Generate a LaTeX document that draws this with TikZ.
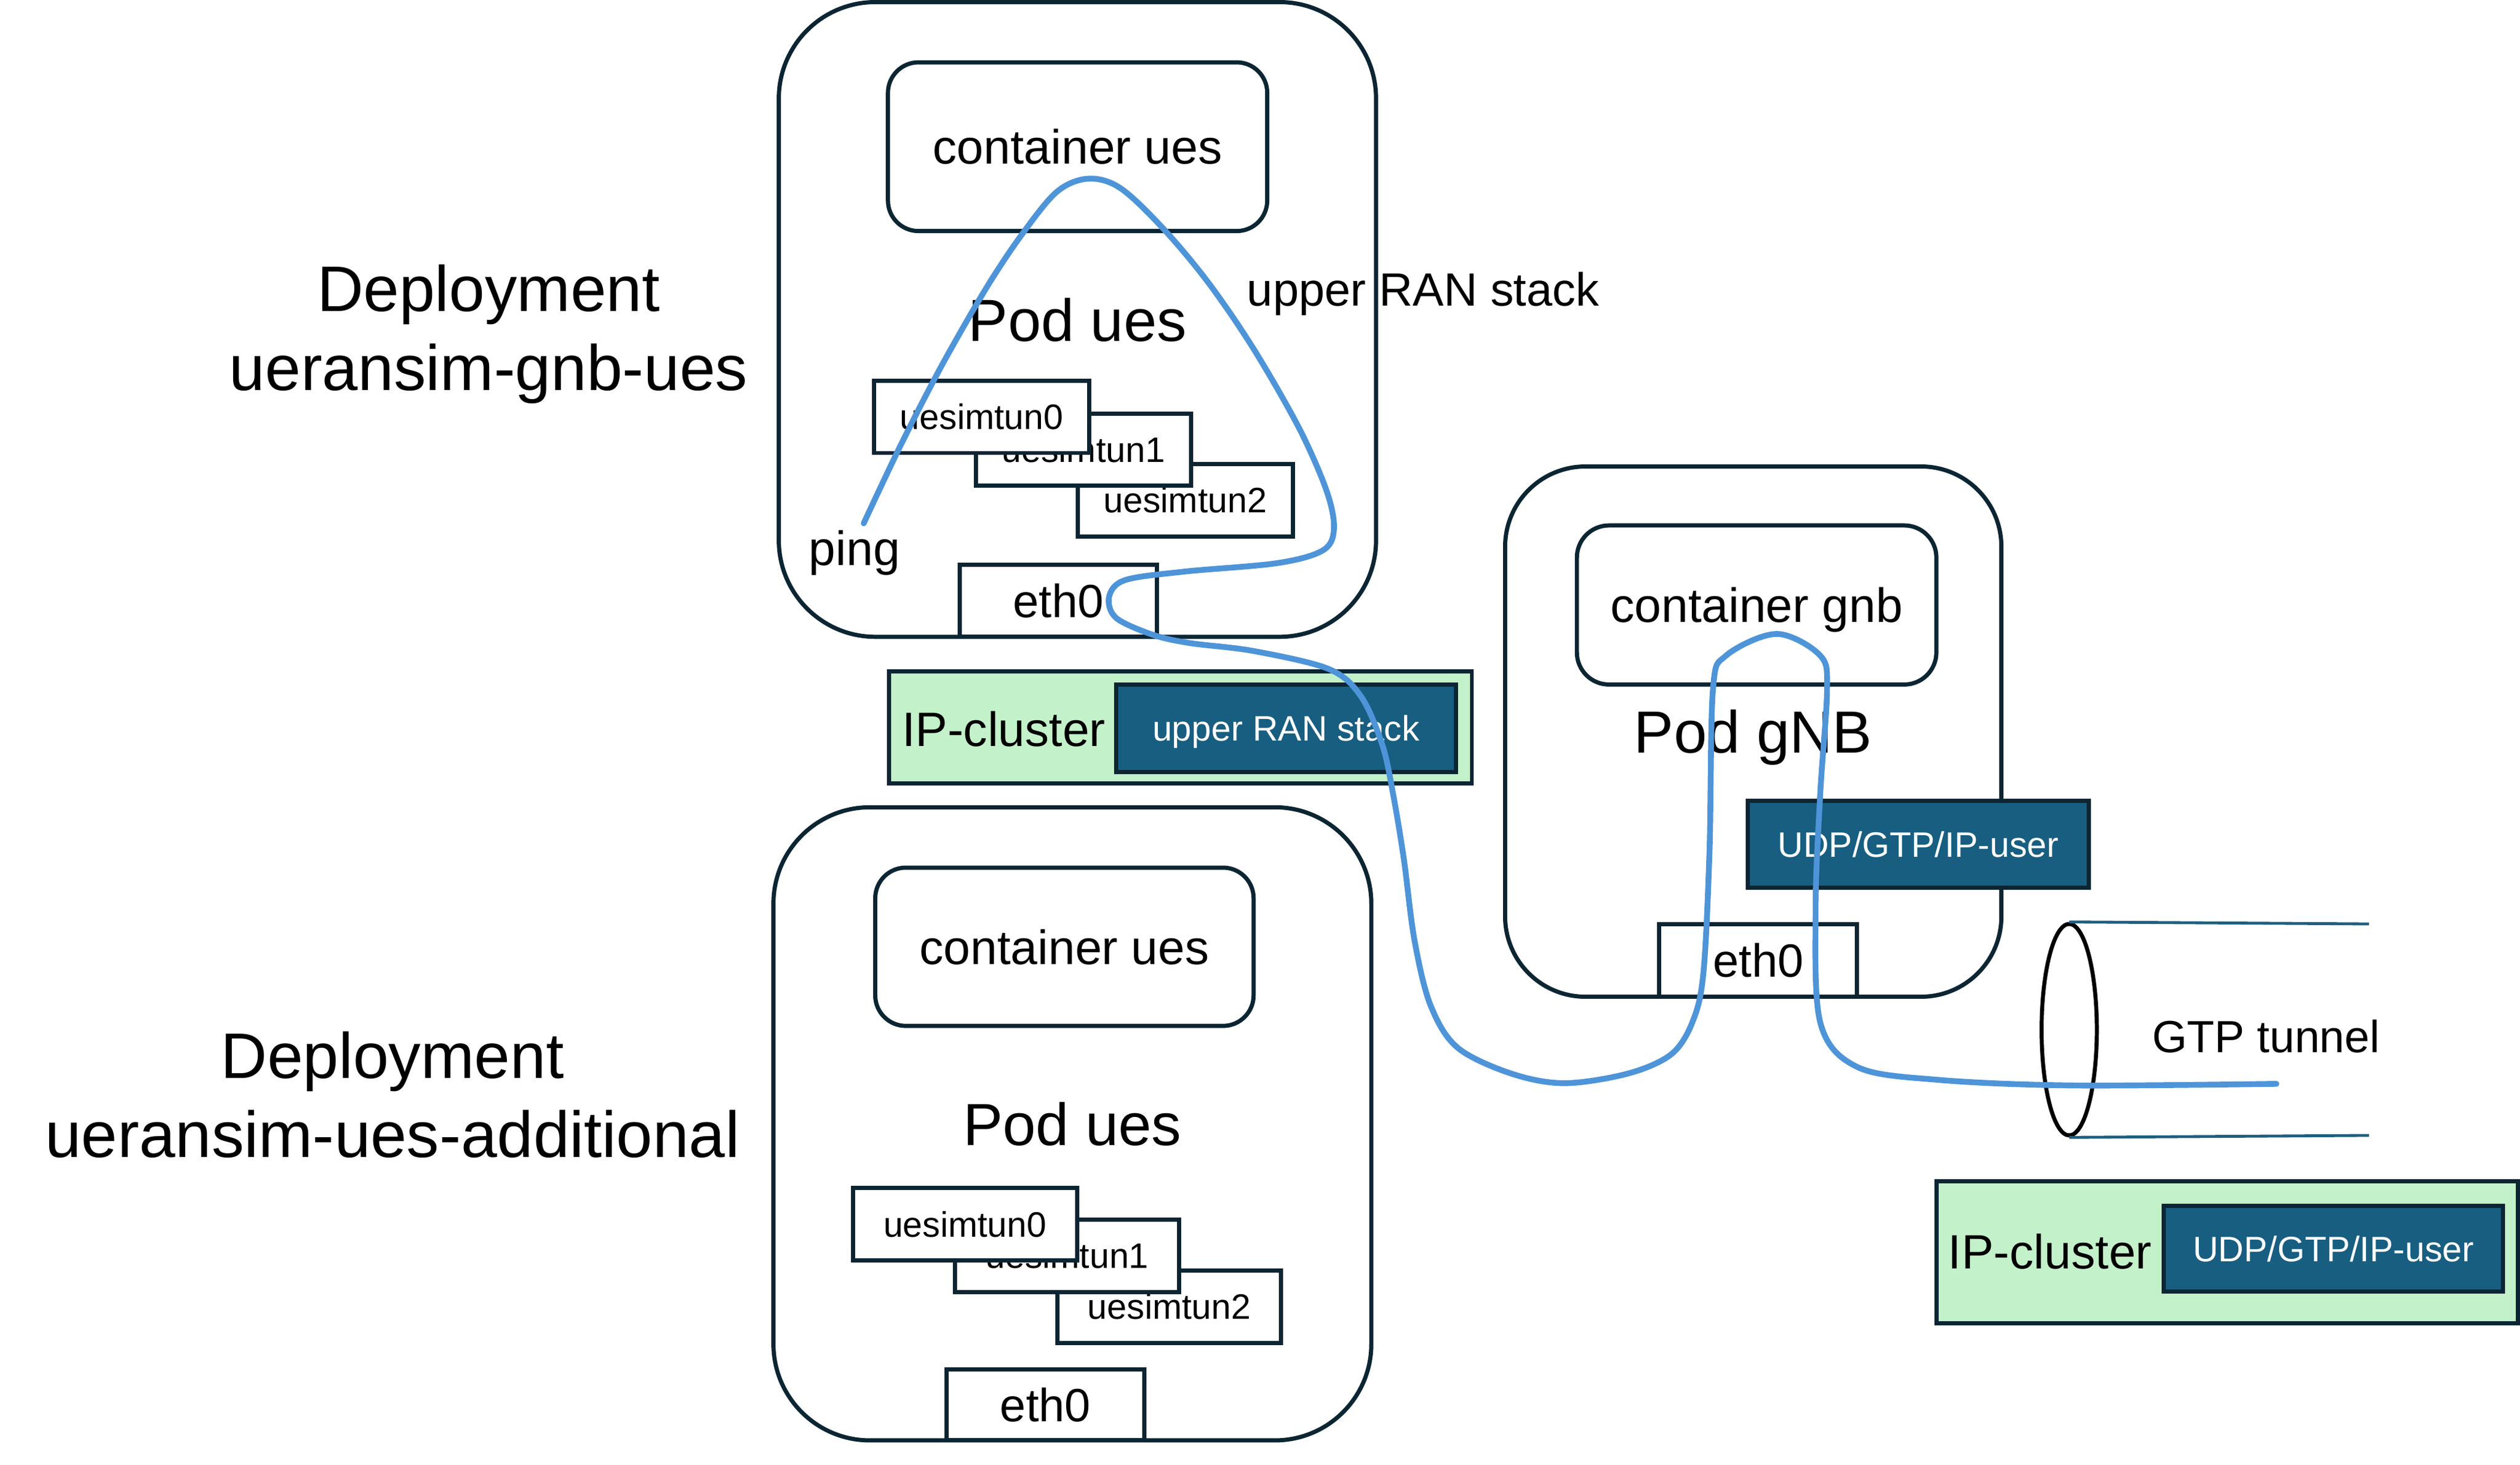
\documentclass[tikz,border=0pt]{standalone}
\usepackage{fontspec}
\setmainfont{Liberation Sans}
\usetikzlibrary{shapes.geometric}
\definecolor{edgec}{HTML}{0B2533}
\definecolor{tealc}{HTML}{175E81}
\definecolor{mintc}{HTML}{C3F1C9}
\definecolor{flowc}{HTML}{4E94D8}
\definecolor{tubec}{HTML}{1F5F7F}
\tikzset{
  podbox/.style={draw=edgec, line width=2.6pt, rounded corners=60pt, fill=white, inner sep=0pt, text depth=0pt, font=\fontsize{37}{44}\selectfont},
  contbox/.style={draw=edgec, line width=2.6pt, rounded corners=19pt, fill=white, inner sep=0pt, text depth=0pt, font=\fontsize{30}{36}\selectfont},
  tunbox/.style={draw=edgec, line width=2.6pt, fill=white, inner sep=0pt, minimum height=45pt, font=\fontsize{22}{26}\selectfont},
  ethbox/.style={draw=edgec, line width=2.6pt, fill=white, inner sep=0pt, minimum width=123pt, minimum height=45pt, font=\fontsize{29}{34}\selectfont},
  stackbox/.style={draw=edgec, line width=2.6pt, fill=tealc, text=white, inner sep=0pt, text depth=0pt, font=\fontsize{22}{26}\selectfont},
  clusterbox/.style={draw=edgec, line width=2.6pt, fill=mintc, inner sep=0pt},
  lbl/.style={inner sep=0pt, font=\fontsize{30}{36}\selectfont},
  deplbl/.style={inner sep=0pt, font=\fontsize{40}{48}\selectfont},
  tube/.style={draw=tubec, line width=1.8pt},
  flow/.style={draw=flowc, line width=3.6pt, line cap=round}
}
\begin{document}
\begin{tikzpicture}[x=1pt,y=-1pt]
\useasboundingbox (0,0) rectangle (1568,911.7);

% deployment labels
\node[deplbl, anchor=base] (depAa) at (304,193.6) {Deployment};
\node[deplbl, anchor=base] (depAb) at (304,243) {ueransim-gnb-ues};
\node[deplbl, anchor=base] (depBa) at (244.2,671.1) {Deployment};
\node[deplbl, anchor=base, font=\fontsize{40.5}{48}\selectfont] (depBb) at (244.2,720.2) {ueransim-ues-additional};

% top pod
\node[podbox, minimum width=371.6pt, minimum height=395pt] (podA) at (670.4,198.8) {Pod ues};
\node[contbox, minimum width=236pt, minimum height=105pt] (contA) at (670.5,91.3) {container ues};
\node[tunbox, minimum width=134pt] (tunA2) at (737.5,311.3) {uesimtun2};
\node[tunbox, minimum width=134pt] (tunA1) at (674.1,279.9) {uesimtun1};
\node[tunbox, minimum width=134pt] (tunA0) at (610.8,259.4) {uesimtun0};
\node[ethbox] (ethA) at (658.5,373.8) {eth0};
\node[lbl, anchor=base] (ping) at (531.7,352) {ping};
\node[lbl, anchor=west, font=\fontsize{29}{35}\selectfont] (ranlbl) at (775.7,183) {upper RAN stack};

% middle IP-cluster
\node[clusterbox, minimum width=362.5pt, minimum height=69.9pt] (clusterA) at (734.55,452.75) {};
\node[lbl, anchor=west] (clusterAtxt) at (561,453.7) {IP-cluster};
\node[stackbox, minimum width=211.7pt, minimum height=54.3pt] (stackA) at (800.25,453.25) {upper RAN stack};

% bottom pod
\node[podbox, minimum width=372pt, minimum height=394pt] (podB) at (667.25,699.4) {Pod ues};
\node[contbox, minimum width=235.4pt, minimum height=98.5pt] (contB) at (662.3,589.2) {container ues};
\node[tunbox, minimum width=139.4pt] (tunB2) at (727.5,813.2) {uesimtun2};
\node[tunbox, minimum width=139.4pt] (tunB1) at (664,781.5) {uesimtun1};
\node[tunbox, minimum width=139.4pt] (tunB0) at (600.4,761.8) {uesimtun0};
\node[ethbox, minimum height=44pt] (ethB) at (650.5,874.4) {eth0};

% gNB pod
\node[podbox, rounded corners=50pt, minimum width=308.8pt, minimum height=330pt] (podG) at (1090.9,455.3) {Pod gNB};
\node[contbox, rounded corners=20pt, minimum width=223.7pt, minimum height=99pt] (contG) at (1093,376.5) {container gnb};
\node[stackbox, minimum width=212.1pt, minimum height=54.2pt] (stackG) at (1193.55,525.4) {UDP/GTP/IP-user};
\node[ethbox, minimum height=45.3pt] (ethG) at (1094,597.7) {eth0};

% GTP tunnel
\node[draw=black, line width=2.5pt, ellipse, inner sep=0pt, minimum width=34.4pt, minimum height=131.6pt] (ring) at (1287.5,640.8) {};
\coordinate (tubeTop) at (1474,575);
\coordinate (tubeBot) at (1474,706.6);
\draw[tube] (ring.north) -- (tubeTop);
\draw[tube] (ring.south) -- (tubeBot);
\node[lbl, font=\fontsize{28}{34}\selectfont] (gtplbl) at (1410,645) {GTP tunnel};

% bottom-right IP-cluster
\node[clusterbox, minimum width=361.9pt, minimum height=88.5pt] (clusterB) at (1385.75,779.35) {};
\node[lbl, anchor=west] (clusterBtxt) at (1212,779) {IP-cluster};
\node[stackbox, minimum width=211.2pt, minimum height=53.4pt] (stackB) at (1451.9,777.2) {UDP/GTP/IP-user};

% data path
\coordinate (pingtip) at (537.4,325.7);
\coordinate (gtpend) at (1416.4,674.5);
\draw[flow] plot[smooth, tension=0.55] coordinates {
 (pingtip) (560.3,277.3) (585.9,227.6) (614.5,177.9) (637.3,143.9) (658,119) (677.3,111.2)
 (697,117) (722.9,141.3) (751.4,175.3) (780,217.1) (808.5,266.8) (825.6,306) (830,329.6)
 (822.8,342.7) (794.3,350.5) (737.2,355.7) (700.1,361) (690.1,371.4) (694.4,384.5) (717.2,395)
 (740.3,400.2) (780.3,405.2) (826.9,416.4) (846.9,433.5) (860.2,463.9) (866.8,494.2) (873.5,534.6)
 (880.1,585.1) (890.1,625.6) (906.8,651.9) (940,668) (973.4,674.1) (1013.3,668) (1040,656)
 (1053.2,635.7) (1059.9,605.4) (1063.7,529.3) (1065.8,429.4) (1074,408) (1105.5,394.5)
 (1132.6,408) (1136.8,429.4) (1132.6,493.6) (1129.7,565) (1132.6,636.3) (1155.6,664)
 (1205.7,672) (1289,675.5) (gtpend)};
\end{tikzpicture}
\end{document}
